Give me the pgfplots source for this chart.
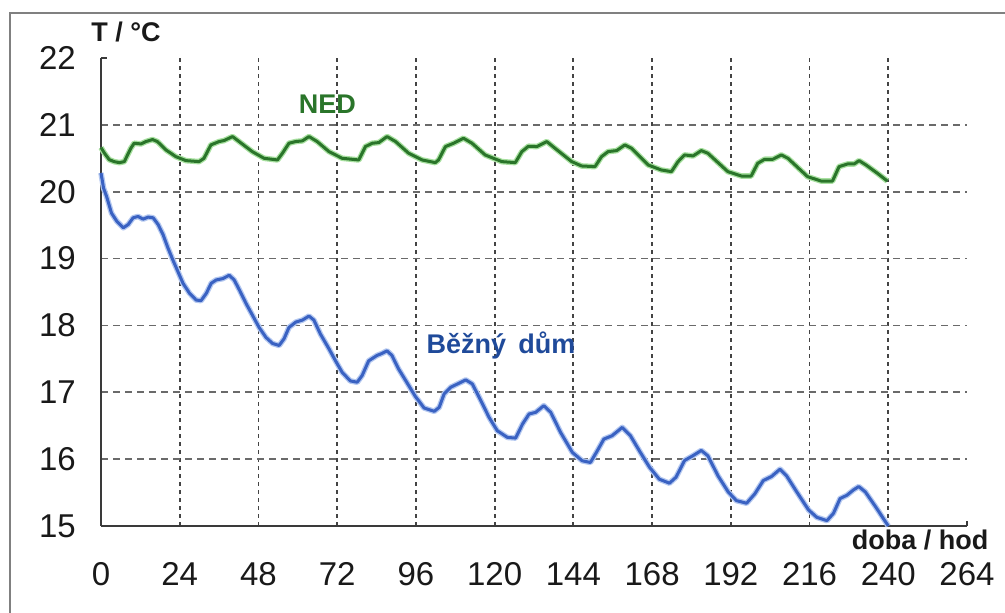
\documentclass[border=0pt]{standalone}
\usepackage{pgfplots}
\usepackage{pgfplotstable}
\pgfplotsset{compat=1.18}
\usepackage{fontspec}
\setmainfont{Liberation Sans}
\definecolor{nedgreen}{HTML}{2A752A}
\definecolor{nedhalo}{HTML}{A8E0A0}
\definecolor{bblue}{HTML}{3A62C2}
\definecolor{bhalo}{HTML}{B4C8F0}
\definecolor{bbluetext}{HTML}{1F4A9A}
\definecolor{axisgray}{HTML}{3A3A3A}
\definecolor{hgrid}{HTML}{6A6A6A}
\definecolor{vgrid}{HTML}{444444}
\pgfplotstableread{
t T
0 20.66
1 20.58
2.5 20.48
4 20.45
5.6 20.435
7.1 20.45
8.2 20.56
9.1 20.65
10.1 20.725
12.2 20.715
13.7 20.75
15.7 20.78
17.2 20.75
19.8 20.625
22.8 20.525
25.9 20.465
29.9 20.45
31.4 20.5
33.5 20.7
36 20.75
37.5 20.765
40.1 20.825
42.1 20.75
46.1 20.6
49.7 20.5
53.8 20.475
55.3 20.575
57.3 20.725
59.3 20.75
61.4 20.76
63.4 20.825
65.9 20.75
69.5 20.6
73.5 20.5
78.6 20.475
80.6 20.675
82.7 20.725
84.7 20.735
87.2 20.825
89.8 20.75
93.8 20.575
97.9 20.475
101.9 20.435
102.9 20.475
105 20.675
107.5 20.725
110.5 20.8
113.1 20.725
117.1 20.55
122.2 20.45
126.3 20.435
128.3 20.6
130.3 20.68
132.9 20.675
135.9 20.75
138.4 20.65
143.5 20.45
146.5 20.385
150.6 20.375
152.6 20.525
154.6 20.6
157.2 20.615
159.7 20.7
161.7 20.65
166.8 20.4
170.8 20.325
173.9 20.3
175.9 20.45
177.9 20.55
180.5 20.535
183 20.615
185 20.575
191.1 20.3
195.2 20.235
198.2 20.235
200.2 20.425
202.3 20.485
204.8 20.485
207.4 20.55
209.4 20.5
215.4 20.225
219.5 20.16
223 20.16
225 20.375
227.6 20.415
229.6 20.415
231.1 20.465
233.2 20.4
236.7 20.275
239.7 20.16
}\nedtable
\pgfplotstableread{
t T
0 20.28
0.8 20.05
1.7 19.93
3.2 19.68
4.8 19.56
6.8 19.46
8.3 19.51
9.8 19.61
11.3 19.63
12.8 19.59
14.4 19.62
15.9 19.61
17.4 19.51
18.9 19.36
20.4 19.16
21.9 18.98
23.5 18.80
25 18.63
27 18.48
29 18.38
30.5 18.37
32.1 18.48
33.6 18.63
35.1 18.68
37.1 18.70
39.1 18.75
40.6 18.68
42.2 18.53
44.2 18.33
46.2 18.15
48.2 17.97
50.3 17.82
52.3 17.73
54.3 17.70
55.8 17.80
57.3 17.97
59.4 18.05
61.4 18.08
63.4 18.14
64.9 18.08
66.9 17.87
69.5 17.65
71.5 17.47
73.5 17.30
76 17.17
78.1 17.15
79.6 17.25
81.6 17.47
84.1 17.55
85.6 17.58
87.2 17.62
88.7 17.55
90.7 17.35
93.2 17.15
95.8 16.94
98.5 16.765
101.6 16.715
103.1 16.775
104.6 16.975
106.6 17.075
108.7 17.125
111.2 17.185
113.2 17.125
115.8 16.875
118.3 16.625
120.8 16.425
123.9 16.325
126.4 16.315
128.5 16.525
130.5 16.675
132.5 16.7
135 16.8
137.1 16.7
140.1 16.4
143.7 16.1
146.7 15.975
149.2 15.95
151.3 16.125
153.3 16.3
155.8 16.35
158.9 16.475
161.4 16.35
164.3 16.11
167.2 15.88
170.2 15.70
173.3 15.64
175.3 15.73
177.9 15.98
180.4 16.05
183 16.13
185 16.05
188.1 15.75
191.2 15.51
193.7 15.38
196.8 15.34
199.3 15.48
201.9 15.68
204.4 15.74
207 15.85
209 15.75
212.1 15.51
215.7 15.24
218.2 15.13
221.3 15.08
223.3 15.19
225.3 15.41
227.4 15.46
229.4 15.54
231 15.59
233 15.51
236.1 15.29
239.6 15.03
240 15.0
}\bezntable
\begin{document}
\begin{tikzpicture}
\begin{axis}[
  scale only axis,
  width=433pt, height=234pt,
  xmin=0, xmax=264, ymin=15, ymax=22,
  axis x line*=bottom, axis y line*=left,
  axis line style={axisgray, line width=1pt, -},
  xtick={24,48,...,240},
  extra x ticks={0,264},
  ytick={16,17,...,21},
  extra y ticks={15,22},
  extra tick style={grid=none},
  major tick length=0pt,
  grid=major,
  x grid style={vgrid, line width=0.9pt, dash pattern=on 1.8pt off 2.2pt},
  y grid style={hgrid, line width=0.9pt, dash pattern=on 3.5pt off 2.5pt},
  /pgf/number format/assume math mode=true,
  ticklabel style={font=\fontsize{16.5}{18}\selectfont, text=black!90},
  xticklabel style={anchor=base, yshift=-30pt},
  yticklabel style={anchor=east, xshift=-9.1pt},
  clip=false,
]
\addplot[nedhalo, line width=2.8pt, line join=round] table[x=t, y=T] {\nedtable};
\addplot[nedgreen, line width=1.5pt, line join=round] table[x=t, y=T] {\nedtable};
\addplot[bhalo, line width=2.8pt, line join=round] table[x=t, y=T] {\bezntable};
\addplot[bblue, line width=1.5pt, line join=round] table[x=t, y=T] {\bezntable};
\end{axis}
% small end ticks
\draw[axisgray, line width=1pt] (0,234pt) -- (3pt,234pt);
\draw[axisgray, line width=1pt] (433pt,0) -- (433pt,2.5pt);
% labels
\node[anchor=base, font=\fontsize{13.5}{15}\selectfont\bfseries, text=black!90] at (12.5pt,242.2pt) {T / °C};
\node[anchor=base, font=\fontsize{13.5}{15}\selectfont\bfseries, text=nedgreen] at (113.2pt,206.3pt) {NED};
\node[anchor=base, font=\fontsize{13.5}{15}\selectfont\bfseries, text=bbluetext] at (200pt,86.3pt) {Běžný\hspace{0.45em}dům};
\node[anchor=base, font=\fontsize{13.5}{15}\selectfont\bfseries, text=black!90] at (409.5pt,-12pt) {doba / hod};
% outer frame
\draw[gray, line width=1.2pt] (-45.5pt,-60pt) -- (-45.5pt,256.5pt) -- (470pt,256.5pt);
\pgfresetboundingbox
\path[use as bounding box] (-50.5pt,-43.5pt) rectangle (452pt,263pt);
\end{tikzpicture}
\end{document}
